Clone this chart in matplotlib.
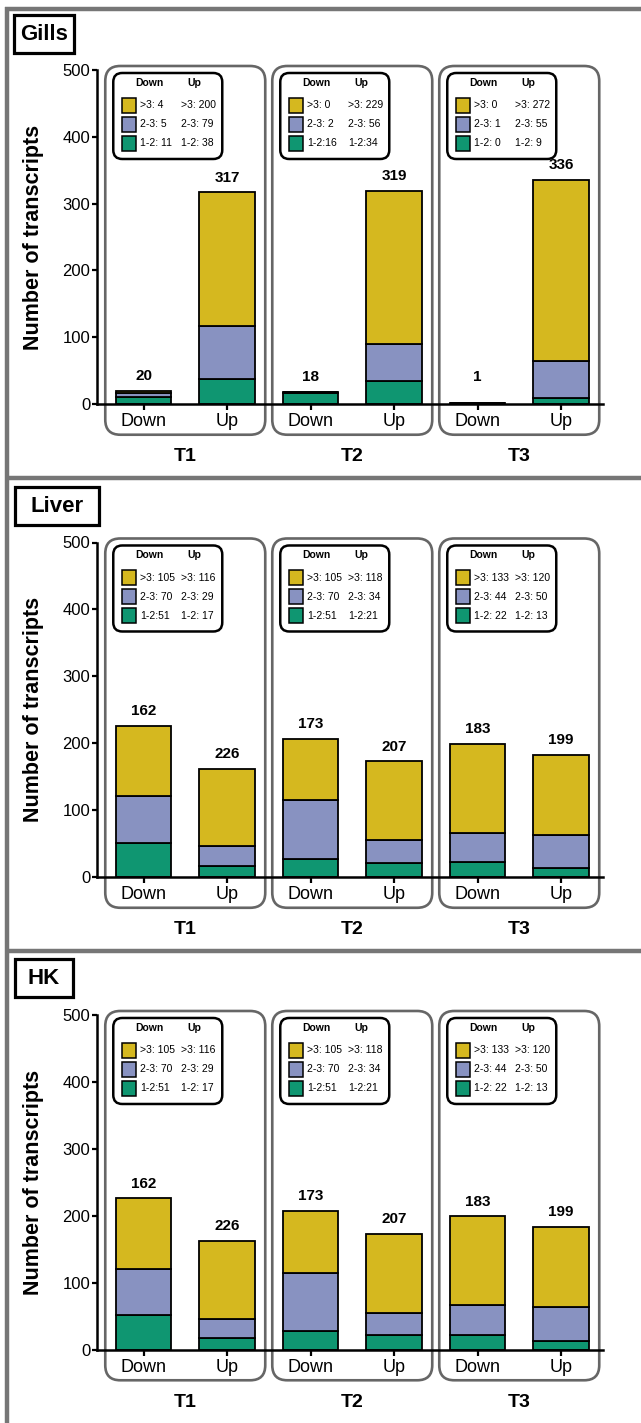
import matplotlib
matplotlib.use("Agg")
import numpy as np
import matplotlib.pyplot as plt
from matplotlib.patches import FancyBboxPatch, Rectangle
from matplotlib.lines import Line2D

plt.rcParams['font.family'] = ['Liberation Sans', 'DejaVu Sans']

# ---------------------------------------------------------------- data
bar_names = ["Down", "Up", "Down", "Up", "Down", "Up"]
time_points = ["T1", "T2", "T3"]
fold_classes = ["1-2", "2-3", ">3"]          # stacking order, bottom to top
fold_colors = ["#0F9671", "#8892C1", "#D5B81F"]

gills_1to2 = [11, 38, 16, 34, 0, 9]
gills_2to3 = [5, 79, 2, 56, 1, 55]
gills_gt3 = [4, 200, 0, 229, 0, 272]
gills_bar_text = ["20", "317", "18", "319", "1", "336"]
gills_key_down = [[">3: 4", "2-3: 5", "1-2: 11"],
                  [">3: 0", "2-3: 2", "1-2:16"],
                  [">3: 0", "2-3: 1", "1-2: 0"]]
gills_key_up = [[">3: 200", "2-3: 79", "1-2: 38"],
                [">3: 229", "2-3: 56", "1-2:34"],
                [">3: 272", "2-3: 55", "1-2: 9"]]

liver_1to2 = [51, 17, 27, 21, 22, 13]
liver_2to3 = [70, 29, 88, 34, 44, 50]
liver_gt3 = [105, 116, 92, 118, 133, 120]
liver_bar_text = ["162", "226", "173", "207", "183", "199"]
liver_key_down = [[">3: 105", "2-3: 70", "1-2:51"],
                  [">3: 105", "2-3: 70", "1-2:51"],
                  [">3: 133", "2-3: 44", "1-2: 22"]]
liver_key_up = [[">3: 116", "2-3: 29", "1-2: 17"],
                [">3: 118", "2-3: 34", "1-2:21"],
                [">3: 120", "2-3: 50", "1-2: 13"]]

hk_1to2 = [51, 17, 27, 21, 22, 13]
hk_2to3 = [70, 29, 88, 34, 44, 50]
hk_gt3 = [105, 116, 92, 118, 133, 120]
hk_bar_text = ["162", "226", "173", "207", "183", "199"]
hk_key_down = [[">3: 105", "2-3: 70", "1-2:51"],
               [">3: 105", "2-3: 70", "1-2:51"],
               [">3: 133", "2-3: 44", "1-2: 22"]]
hk_key_up = [[">3: 116", "2-3: 29", "1-2: 17"],
             [">3: 118", "2-3: 34", "1-2:21"],
             [">3: 120", "2-3: 50", "1-2: 13"]]

y_ticks = [0, 100, 200, 300, 400, 500]

# ---------------------------------------------------------------- layout
W, H, DPI = 641, 1423, 100
fig = plt.figure(figsize=(W / DPI, H / DPI), dpi=DPI)
fig.patch.set_facecolor("white")

# full-figure pixel canvas for frames, group boxes and keys
deco = fig.add_axes([0, 0, 1, 1], zorder=0)
deco.set_xlim(0, W)
deco.set_ylim(H, 0)
deco.axis("off")

FRAME = "#767676"
for seg in [((5, 641), (8.5, 8.5)), ((7, 7), (6.5, H)),
            ((5, 641), (477.5, 477.5)), ((5, 641), (950.5, 950.5))]:
    deco.add_line(Line2D(seg[0], seg[1], color=FRAME, lw=3.2,
                         solid_capstyle="butt"))

panels = [
    dict(title="Gills", tbox=(14, 15, 60, 38), top=70.0, zero=404.0,
         stacks=(gills_1to2, gills_2to3, gills_gt3), text=gills_bar_text,
         kdown=gills_key_down, kup=gills_key_up),
    dict(title="Liver", tbox=(15, 487, 84, 38), top=542.5, zero=877.0,
         stacks=(liver_1to2, liver_2to3, liver_gt3), text=liver_bar_text,
         kdown=liver_key_down, kup=liver_key_up),
    dict(title="HK", tbox=(15, 959, 58, 38), top=1015.0, zero=1349.5,
         stacks=(hk_1to2, hk_2to3, hk_gt3), text=hk_bar_text,
         kdown=hk_key_down, kup=hk_key_up),
]

AX_L, AX_R = 97.0, 603.0
x = np.arange(len(bar_names))
BAR_W = 0.66

for p in panels:
    # panel name tag
    tx, ty, tw, th = p["tbox"]
    deco.add_patch(Rectangle((tx, ty), tw, th, fill=True, fc="white",
                             ec="black", lw=2.3))
    deco.text(tx + tw / 2, ty + th / 2 + 1, p["title"], ha="center",
              va="center", fontsize=16, fontweight="bold")

    ax = fig.add_axes([AX_L / W, 1 - p["zero"] / H, (AX_R - AX_L) / W,
                       (p["zero"] - p["top"]) / H], zorder=2)
    ax.patch.set_alpha(0)
    ax.set_xlim(-0.557, 5.503)
    ax.set_ylim(0, 500)

    bottom = np.zeros(len(x))
    for vals, col in zip(p["stacks"], fold_colors):
        vals = np.asarray(vals, dtype=float)
        ax.bar(x, vals, width=BAR_W, bottom=bottom, color=col,
               edgecolor="black", linewidth=1.3, zorder=3)
        bottom += vals

    for xi, top, lab in zip(x, bottom, p["text"]):
        ax.text(xi, max(top, 18) + 22, lab, ha="center", va="center",
                fontsize=11, fontweight="bold", zorder=4)

    for sp in ("top", "right"):
        ax.spines[sp].set_visible(False)
    for sp in ("left", "bottom"):
        ax.spines[sp].set_linewidth(1.8)
        ax.spines[sp].set_zorder(5)
    ax.set_xticks(x)
    ax.set_xticklabels(bar_names, fontsize=13)
    ax.set_yticks(y_ticks)
    ax.set_yticklabels([str(t) for t in y_ticks], fontsize=12)
    ax.tick_params(axis="x", length=4.5, width=1.6, pad=2)
    ax.tick_params(axis="y", length=3.8, width=1.6, pad=1)
    ax.set_ylabel("Number of transcripts", fontsize=15.5,
                  fontweight="bold", va="center")
    ax.yaxis.set_label_coords((33 - AX_L) / (AX_R - AX_L), 0.5)

    def to_px(xv, yv, ax=ax):
        d = ax.transData.transform((xv, yv))
        return d[0], H - d[1]

    for g, tp in enumerate(time_points):
        cx = 2 * g + 0.5
        # group box
        x0, y0 = to_px(cx - 0.958, 506)
        x1, y1 = to_px(cx + 0.958, -46)
        deco.add_patch(FancyBboxPatch((x0, y0), x1 - x0, y1 - y0,
                                      boxstyle="round,pad=0,rounding_size=15",
                                      fc="none", ec="#666666", lw=1.9))
        # group name
        gx, gy = to_px(cx, -79)
        deco.text(gx, gy, tp, ha="center", va="center", fontsize=14,
                  fontweight="bold")

        # key box
        lx, ly = x0 + 8, y0 + 7
        deco.add_patch(FancyBboxPatch((lx, ly), 109, 86,
                                      boxstyle="round,pad=0,rounding_size=9",
                                      fc="white", ec="black", lw=1.8))
        deco.text(lx + 36, ly + 10, "Down", ha="center", va="center",
                  fontsize=7.5, fontweight="bold")
        deco.text(lx + 81, ly + 10, "Up", ha="center", va="center",
                  fontsize=7.5, fontweight="bold")
        for r in range(3):
            ry = ly + 25 + 19 * r
            col = fold_colors[2 - r]
            deco.add_patch(Rectangle((lx + 9, ry), 13.5, 15, fc=col,
                                     ec="black", lw=1.1))
            deco.text(lx + 26.5, ry + 7.5, p["kdown"][g][r], ha="left",
                      va="center", fontsize=7.5)
            deco.text(lx + 67.5, ry + 7.5, p["kup"][g][r], ha="left",
                      va="center", fontsize=7.5)

fig.savefig("out.png", dpi=DPI, facecolor="white")
